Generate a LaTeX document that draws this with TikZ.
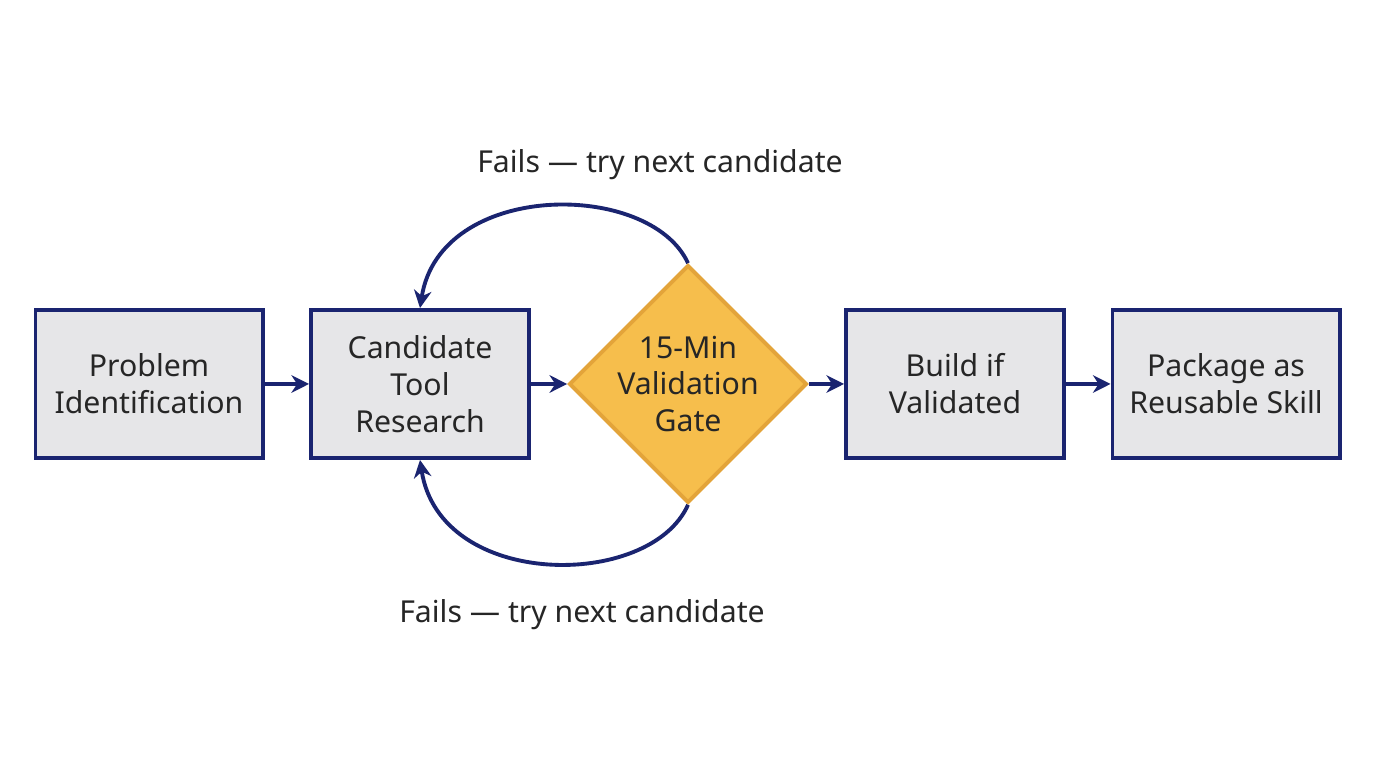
\documentclass[tikz,border=0pt]{standalone}
\usepackage{fontspec}
\setmainfont{Noto Sans}
\usetikzlibrary{arrows.meta,positioning,shapes.geometric}
\definecolor{navy}{HTML}{1A2470}
\definecolor{boxgray}{HTML}{E6E6E8}
\definecolor{gatefill}{HTML}{F6BE4C}
\definecolor{gateline}{HTML}{E3A43A}
\tikzset{%
	process/.style  = {draw=navy, fill=boxgray, line width=1.1pt, rectangle, minimum width=2.27cm, minimum height=1.48cm, align=center, font=\fontsize{8.6}{10.5}\selectfont, text=black!85},
	decision/.style = {draw=gateline, fill=gatefill, line width=1.1pt, diamond, minimum width=2.2cm, minimum height=2.22cm, align=center, inner sep=0pt, font=\fontsize{8.6}{10.5}\selectfont\bfseries, text=black!85},
	arrow/.style    = {draw=navy, line width=1.1pt, -{Stealth[length=5pt,width=5pt]}},
	lbl/.style      = {font=\fontsize{8.6}{10.5}\selectfont, text=black!85},
}
\begin{document}
\begin{tikzpicture}[x=0.01cm,y=-0.01cm]
	\useasboundingbox[fill=white] (0,0) rectangle (1376,768);
	\node [process] (prob) at (149,384) {Problem\\Identification};
	\node [process, minimum width=2.18cm] (cand) at (420,384) {Candidate\\Tool\\Research};
	\node [decision] (gate) at (688,384) {15-Min\\Validation\\Gate};
	\node [process, minimum width=2.18cm] (build) at (955,384) {Build if\\Validated};
	\node [process] (pack) at (1226,384) {Package as\\Reusable Skill};
	\node [lbl] (ftop) at (660,165) {Fails — try next candidate};
	\node [lbl] (fbot) at (582,615) {Fails — try next candidate};

	\draw[arrow] (prob) -- (cand);
	\draw[arrow] (cand) -- (gate);
	\draw[arrow] (gate) -- (build);
	\draw[arrow] (build) -- (pack);
	\draw[arrow] (gate.north) .. controls (650,180) and (440,180) .. (cand.north);
	\draw[arrow] (gate.south) .. controls (650,590) and (440,590) .. (cand.south);
\end{tikzpicture}
\end{document}
